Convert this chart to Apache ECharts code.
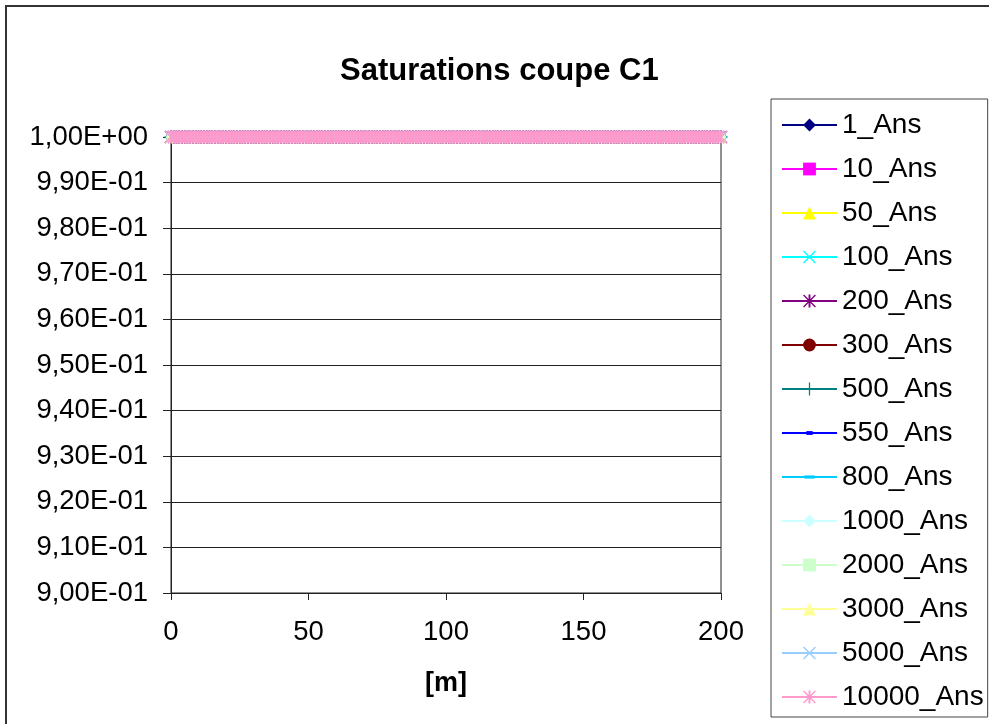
<!DOCTYPE html>
<html>
<head>
<meta charset="utf-8">
<script src="https://cdn.jsdelivr.net/npm/echarts@6/dist/echarts.min.js"></script>
<style>
  html, body { margin: 0; padding: 0; background: #ffffff; }
  #chart { width: 989px; height: 724px; }
</style>
</head>
<body>
<div id="chart"></div>
<script>
// Time steps shown in the legend (years)
const seriesNames = ['1_Ans', '10_Ans', '50_Ans', '100_Ans', '200_Ans', '300_Ans', '500_Ans',
  '550_Ans', '800_Ans', '1000_Ans', '2000_Ans', '3000_Ans', '5000_Ans', '10000_Ans'];

// Distance along section C1 (m)
const distances = [
  0, 1, 2, 3, 4, 5, 6, 7, 8, 9, 10, 11, 12, 13, 14, 15, 16, 17, 18, 19,
  20, 21, 22, 23, 24, 25, 26, 27, 28, 29, 30, 31, 32, 33, 34, 35, 36, 37, 38, 39,
  40, 41, 42, 43, 44, 45, 46, 47, 48, 49, 50, 51, 52, 53, 54, 55, 56, 57, 58, 59,
  60, 61, 62, 63, 64, 65, 66, 67, 68, 69, 70, 71, 72, 73, 74, 75, 76, 77, 78, 79,
  80, 81, 82, 83, 84, 85, 86, 87, 88, 89, 90, 91, 92, 93, 94, 95, 96, 97, 98, 99,
  100, 101, 102, 103, 104, 105, 106, 107, 108, 109, 110, 111, 112, 113, 114, 115, 116, 117, 118, 119,
  120, 121, 122, 123, 124, 125, 126, 127, 128, 129, 130, 131, 132, 133, 134, 135, 136, 137, 138, 139,
  140, 141, 142, 143, 144, 145, 146, 147, 148, 149, 150, 151, 152, 153, 154, 155, 156, 157, 158, 159,
  160, 161, 162, 163, 164, 165, 166, 167, 168, 169, 170, 171, 172, 173, 174, 175, 176, 177, 178, 179,
  180, 181, 182, 183, 184, 185, 186, 187, 188, 189, 190, 191, 192, 193, 194, 195, 196, 197, 198, 199,
  200
];

// Saturation along the section: fully saturated at every time step
const saturation = [
  1, 1, 1, 1, 1, 1, 1, 1, 1, 1, 1, 1, 1, 1, 1, 1, 1, 1, 1, 1,
  1, 1, 1, 1, 1, 1, 1, 1, 1, 1, 1, 1, 1, 1, 1, 1, 1, 1, 1, 1,
  1, 1, 1, 1, 1, 1, 1, 1, 1, 1, 1, 1, 1, 1, 1, 1, 1, 1, 1, 1,
  1, 1, 1, 1, 1, 1, 1, 1, 1, 1, 1, 1, 1, 1, 1, 1, 1, 1, 1, 1,
  1, 1, 1, 1, 1, 1, 1, 1, 1, 1, 1, 1, 1, 1, 1, 1, 1, 1, 1, 1,
  1, 1, 1, 1, 1, 1, 1, 1, 1, 1, 1, 1, 1, 1, 1, 1, 1, 1, 1, 1,
  1, 1, 1, 1, 1, 1, 1, 1, 1, 1, 1, 1, 1, 1, 1, 1, 1, 1, 1, 1,
  1, 1, 1, 1, 1, 1, 1, 1, 1, 1, 1, 1, 1, 1, 1, 1, 1, 1, 1, 1,
  1, 1, 1, 1, 1, 1, 1, 1, 1, 1, 1, 1, 1, 1, 1, 1, 1, 1, 1, 1,
  1, 1, 1, 1, 1, 1, 1, 1, 1, 1, 1, 1, 1, 1, 1, 1, 1, 1, 1, 1,
  1
];

// Y tick labels, from 0.90 to 1.00 in steps of 0.01
const yTickLabels = ['9,00E-01', '9,10E-01', '9,20E-01', '9,30E-01', '9,40E-01', '9,50E-01',
  '9,60E-01', '9,70E-01', '9,80E-01', '9,90E-01', '1,00E+00'];

// ---- styling ----
const FONT = "'Liberation Sans', Arial, sans-serif";
const seriesColors = ['#000080', '#FF00FF', '#FFFF00', '#00FFFF', '#800080', '#800000', '#008080',
  '#0000FF', '#00CCFF', '#CCFFFF', '#CCFFCC', '#FFFF99', '#99CCFF', '#FF99CC'];

// Marker shapes (the corner points only fix a square bounding box)
const BOX = 'M0 0 L0 0 M20 20 L20 20 ';
const CROSS = 'path://' + BOX + 'M0 1.5 L1.5 0 L20 18.5 L18.5 20 Z M18.5 0 L20 1.5 L1.5 20 L0 18.5 Z';
const STAR = 'path://' + BOX + 'M0 1.5 L1.5 0 L20 18.5 L18.5 20 Z M18.5 0 L20 1.5 L1.5 20 L0 18.5 Z M8.5 0 H11.5 V20 H8.5 Z';
const PLUS = 'path://' + BOX + 'M9 0 H11 V20 H9 Z M0 9 H20 V11 H0 Z';
const DASH_S = 'path://' + BOX + 'M5 7 H15 V13 H5 Z';
const DASH_L = 'path://' + BOX + 'M2 7.5 H18 V12.5 H2 Z';

const markers = ['diamond', 'rect', 'triangle', CROSS, STAR, 'circle', PLUS,
  DASH_S, DASH_L, 'diamond', 'rect', 'triangle', CROSS, STAR];
const markerSizes = [11, 9, 12, 12, 13, 10, 13, 11, 13, 11, 9, 12, 12, 13];

const chart = echarts.init(document.getElementById('chart'), null, { renderer: 'canvas' });

const points = distances.map((d, k) => [d, saturation[k]]);

chart.setOption({
  animation: false,
  backgroundColor: '#ffffff',
  textStyle: { fontFamily: FONT },
  title: {
    text: 'Saturations coupe C1',
    left: 340,
    top: 56,
    padding: 0,
    textStyle: { fontFamily: FONT, fontSize: 31, fontWeight: 'bold', color: '#000' }
  },
  graphic: [{
    type: 'rect',
    silent: true,
    shape: { x: 6, y: 6, width: 1100, height: 1100 },
    style: { fill: 'none', stroke: '#333', lineWidth: 2 }
  }],
  legend: {
    orient: 'vertical',
    left: 771,
    top: 99,
    padding: [12, 4, 6, 10],
    itemWidth: 55,
    itemHeight: 16,
    itemGap: 16,
    borderColor: '#444',
    borderWidth: 1,
    selectedMode: false,
    data: seriesNames,
    lineStyle: { width: 2 },
    textStyle: { fontFamily: FONT, fontSize: 28, lineHeight: 28, color: '#000' }
  },
  grid: { left: 171, top: 137, width: 550, height: 456, show: true, borderColor: '#222', borderWidth: 1 },
  xAxis: {
    type: 'value',
    min: 0,
    max: 200,
    interval: 50,
    name: '[m]',
    nameLocation: 'middle',
    nameGap: 77,
    nameTextStyle: { fontFamily: FONT, fontSize: 27, fontWeight: 'bold', color: '#000' },
    axisLine: { show: true, lineStyle: { color: '#222', width: 1 } },
    axisTick: { show: true, inside: false, length: 7, lineStyle: { color: '#222' } },
    axisLabel: { margin: 25, fontFamily: FONT, fontSize: 27.5, color: '#000' },
    splitLine: { show: false }
  },
  yAxis: {
    type: 'value',
    min: 0.9,
    max: 1.0,
    interval: 0.01,
    axisLine: { show: true, lineStyle: { color: '#222', width: 1 } },
    axisTick: { show: true, inside: false, length: 8, lineStyle: { color: '#222' } },
    axisLabel: {
      margin: 23,
      fontFamily: FONT,
      fontSize: 27.5,
      color: '#000',
      formatter: v => yTickLabels[Math.round((v - 0.9) / 0.01)]
    },
    splitLine: { show: true, lineStyle: { color: '#222', width: 1 } }
  },
  series: seriesNames.map((name, i) => ({
    name: name,
    type: 'line',
    data: points,
    symbol: markers[i],
    symbolSize: markerSizes[i],
    showSymbol: true,
    showAllSymbol: true,
    color: seriesColors[i],
    lineStyle: { width: 2, color: seriesColors[i] },
    itemStyle: { color: seriesColors[i], borderWidth: 0 },
    emphasis: { disabled: true },
    silent: true,
    clip: false
  }))
});
</script>
</body>
</html>
